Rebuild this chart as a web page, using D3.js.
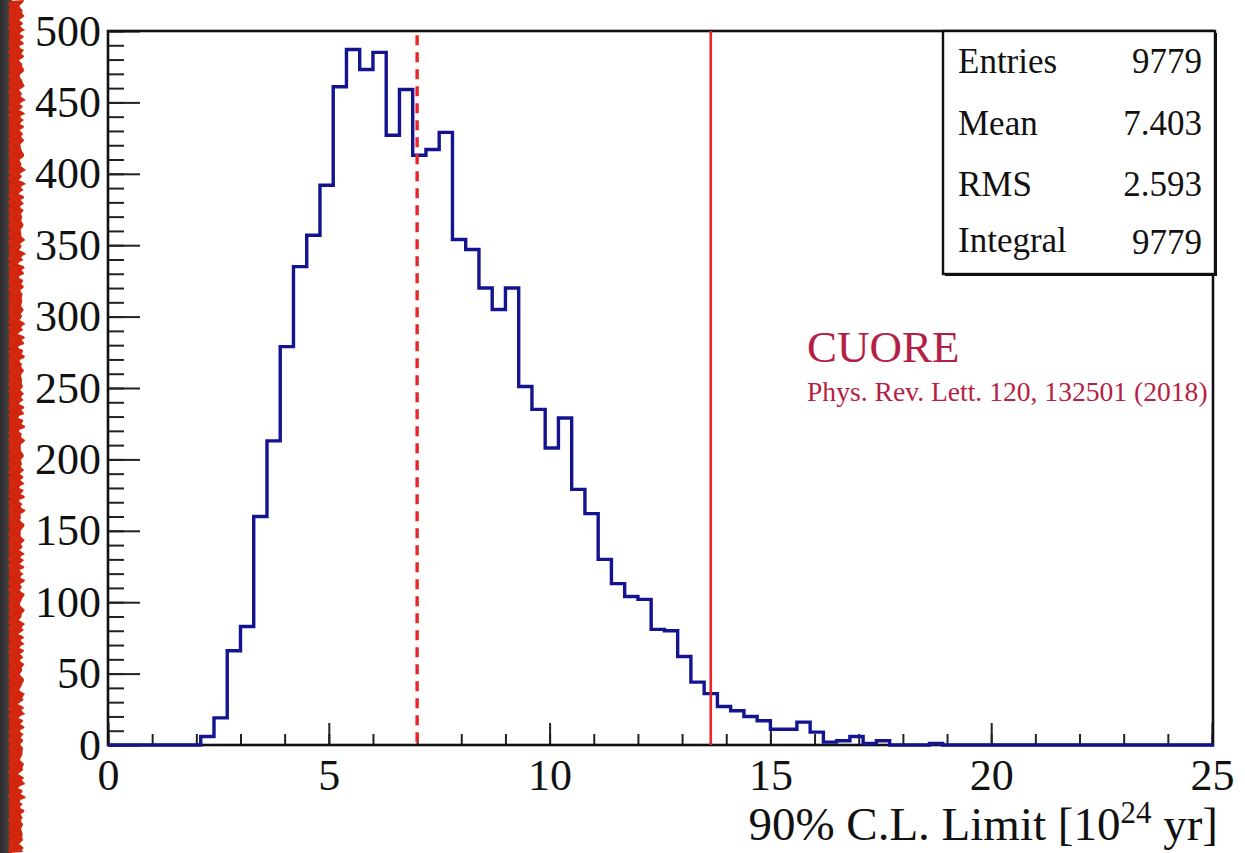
<!DOCTYPE html>
<html>
<head>
<meta charset="utf-8">
<script src="https://cdn.jsdelivr.net/npm/d3@7"></script>
<style>
  html, body { margin: 0; padding: 0; background: #ffffff; }
  svg { display: block; }
  text { font-family: "Liberation Serif", "Times New Roman", serif; fill: #111; }
</style>
</head>
<body>
<svg id="chart" width="1245" height="853"></svg>
<script>
// Toy-experiment distribution of the 90% C.L. half-life limit (units of 1e24 yr)
const binWidth = 0.3;
const binStart = 0;
const counts = [
  0, 0, 0, 0, 0, 0, 0, 6, 19, 66,
  83, 160, 213, 279, 335, 357, 392, 461, 487, 473,
  485, 427, 459, 413, 417, 429, 354, 347, 320, 305,
  320, 251, 235, 208, 229, 179, 162, 130, 113, 104,
  102, 81, 80, 62, 44, 36, 27, 24, 20, 17,
  11, 11, 16, 9, 2, 3, 6, 1, 3, 0,
  0, 0, 1, 0, 0, 0, 0, 0, 0, 0,
  0, 0, 0, 0, 0, 0, 0, 0, 0, 0,
  0, 0, 0, 0
];

// Reference lines
const medianSensitivity = 7.0;
const observedLimit = 13.65;

// Axis ranges and tick values
const xDomain = [0, 25];
const yDomain = [0, 500];
const xMajorTicks = [0, 5, 10, 15, 20, 25];
const yMajorTicks = [0, 50, 100, 150, 200, 250, 300, 350, 400, 450, 500];

// Statistics box contents
const statLabels = ["Entries", "Mean", "RMS", "Integral"];
const statValues = ["9779", "7.403", "2.593", "9779"];

// Annotation
const experimentName = "CUORE";
const referenceText = "Phys. Rev. Lett. 120, 132501 (2018)";
const xTitleMain = "90% C.L. Limit [10";
const xTitleExp = "24";
const xTitleTail = " yr]";

const svg = d3.select("#chart");
const frame = { left: 108, right: 1212, top: 31, bottom: 745 };

// Slide edge decoration on the far left
const edge = svg.append("g");
const grad = svg.append("defs").append("linearGradient")
  .attr("id", "edgeGrad").attr("x1", 0).attr("x2", 1);
grad.append("stop").attr("offset", "0%").attr("stop-color", "#2c2c2c");
grad.append("stop").attr("offset", "100%").attr("stop-color", "#4a4a4a");
edge.append("rect").attr("x", 0).attr("y", 0).attr("width", 12).attr("height", 853)
  .attr("fill", "url(#edgeGrad)");
const jag = [];
for (let yy = 0; yy <= 853; yy += 2) {
  const off = 22 + 1.6 * Math.sin(yy * 0.9) + 1.3 * Math.sin(yy * 2.7 + 1)
    + 0.9 * Math.cos(yy * 0.37) + 1.1 * Math.sin(yy * 5.3);
  jag.push([off, yy]);
}
const leftJag = [];
for (let yy = 853; yy >= 0; yy -= 3) {
  leftJag.push([9 + 1.0 * Math.sin(yy * 1.3) + 0.6 * Math.sin(yy * 3.1), yy]);
}
edge.append("path")
  .attr("d", "M" + jag.concat(leftJag).map(p => p.join(",")).join("L") + "Z")
  .attr("fill", "#d3260f");

const x = d3.scaleLinear().domain(xDomain).range([frame.left, frame.right]);
const y = d3.scaleLinear().domain(yDomain).range([frame.bottom, frame.top]);

svg.append("clipPath").attr("id", "plotClip")
  .append("rect")
  .attr("x", frame.left).attr("y", frame.top - 2)
  .attr("width", frame.right - frame.left + 2).attr("height", frame.bottom - frame.top + 4);

// Axes with inward ticks
const yMinor = d3.range(0, 501, 10);
const xMinor = d3.range(0, 26, 1);

const yAxisMinor = svg.append("g").attr("transform", `translate(${frame.left},0)`)
  .call(d3.axisLeft(y).tickValues(yMinor).tickSize(-16).tickFormat(""));
const yAxisMajor = svg.append("g").attr("transform", `translate(${frame.left},0)`)
  .call(d3.axisLeft(y).tickValues(yMajorTicks).tickSize(-32).tickPadding(7).tickFormat(d3.format("d")));
const xAxisMinor = svg.append("g").attr("transform", `translate(0,${frame.bottom})`)
  .call(d3.axisBottom(x).tickValues(xMinor).tickSize(-11).tickFormat(""));
const xAxisMajor = svg.append("g").attr("transform", `translate(0,${frame.bottom})`)
  .call(d3.axisBottom(x).tickValues(xMajorTicks).tickSize(-22).tickPadding(14).tickFormat(d3.format("d")));

[yAxisMinor, yAxisMajor, xAxisMinor, xAxisMajor].forEach(g => {
  g.select(".domain").remove();
  g.selectAll(".tick line").attr("stroke", "#222").attr("stroke-width", 2);
  g.selectAll("text")
    .style("font-family", '"Liberation Serif", "Times New Roman", serif')
    .style("font-size", "44px").attr("fill", "#111");
});

// Frame
svg.append("rect")
  .attr("x", frame.left).attr("y", frame.top)
  .attr("width", frame.right - frame.left + 1).attr("height", frame.bottom - frame.top)
  .attr("fill", "none").attr("stroke", "#111").attr("stroke-width", 2.6);

// Histogram outline
const pts = counts.map((c, i) => [binStart + i * binWidth, c]);
pts.push([binStart + counts.length * binWidth, counts[counts.length - 1]]);
const stepLine = d3.line()
  .x(d => x(d[0]))
  .y(d => y(d[1]))
  .curve(d3.curveStepAfter);
svg.append("path")
  .attr("clip-path", "url(#plotClip)")
  .attr("d", stepLine(pts))
  .attr("fill", "none")
  .attr("stroke", "#141490")
  .attr("stroke-width", 3.4)
  .attr("stroke-linejoin", "miter");

// Median sensitivity (dashed) and observed limit (solid)
svg.append("line")
  .attr("x1", x(medianSensitivity)).attr("x2", x(medianSensitivity))
  .attr("y1", y(497)).attr("y2", y(0))
  .attr("stroke", "#e8262a").attr("stroke-width", 3.4)
  .attr("stroke-dasharray", "10,7");
svg.append("line")
  .attr("x1", x(observedLimit)).attr("x2", x(observedLimit))
  .attr("y1", y(500)).attr("y2", y(0))
  .attr("stroke", "#e8262a").attr("stroke-width", 2.6);

// Statistics box
const box = { left: 943, right: 1215, top: 31, bottom: 274 };
svg.append("rect")
  .attr("x", box.left + 2).attr("y", box.top + 2)
  .attr("width", box.right - box.left).attr("height", box.bottom - box.top)
  .attr("fill", "#111");
svg.append("rect")
  .attr("x", box.left).attr("y", box.top)
  .attr("width", box.right - box.left).attr("height", box.bottom - box.top)
  .attr("fill", "#ffffff").attr("stroke", "#111").attr("stroke-width", 2.4);
const statBaselines = [73, 135, 196, 252];
const statGroup = svg.append("g").style("font-size", "35px");
statLabels.forEach((lab, i) => {
  statGroup.append("text").attr("x", 958).attr("y", statBaselines[i]).text(lab);
  statGroup.append("text").attr("x", 1202).attr("y", statBaselines[i] + (i === 3 ? 2 : 0))
    .attr("text-anchor", "end").text(statValues[i]);
});

// Experiment annotation
svg.append("text").attr("x", 807).attr("y", 362)
  .style("font-size", "45px").style("fill", "#b41f45")
  .text(experimentName);
svg.append("text").attr("x", 807).attr("y", 401)
  .style("font-size", "27.6px").style("fill", "#b41f45")
  .text(referenceText);

// X-axis title, right-aligned to the frame
const title = svg.append("text").attr("x", 1218).attr("y", 840)
  .attr("text-anchor", "end").style("font-size", "47px");
title.append("tspan").text(xTitleMain);
title.append("tspan").attr("dy", -17).style("font-size", "31px").text(xTitleExp);
title.append("tspan").attr("dy", 17).text(xTitleTail);
</script>
</body>
</html>
